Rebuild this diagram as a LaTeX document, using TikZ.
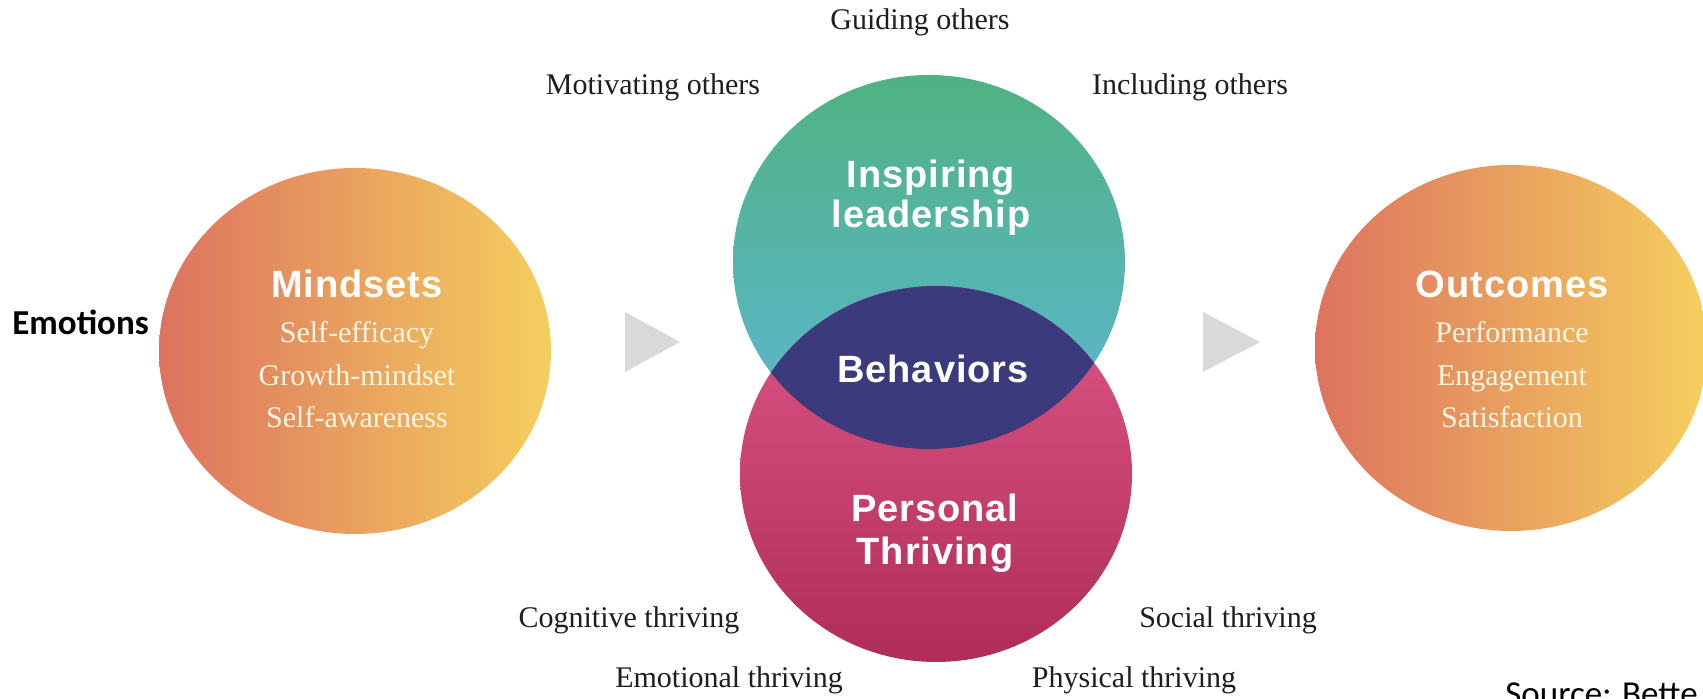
\documentclass[tikz,border=0pt]{standalone}
\usepackage{fontspec}
\setmainfont{Liberation Serif}
\newfontfamily\headfont{Liberation Sans}[LetterSpace=2.5]
\newfontfamily\notefont{Carlito}
\usetikzlibrary{shapes.geometric}

\definecolor{coral}{RGB}{221,115,95}
\definecolor{sun}{RGB}{245,207,94}
\definecolor{tealtop}{RGB}{80,178,130}
\definecolor{tealbot}{RGB}{92,183,212}
\definecolor{pinktop}{RGB}{222,87,135}
\definecolor{pinkbot}{RGB}{176,45,88}
\definecolor{lens}{RGB}{58,58,124}
\definecolor{cream}{RGB}{255,246,230}
\definecolor{ink}{RGB}{30,30,30}
\definecolor{pointer}{RGB}{217,217,217}

\begin{document}
\begin{tikzpicture}[x=0.5pt,y=0.5pt,
  blob/.style={ellipse, inner sep=0pt, outer sep=0pt, minimum width=196pt,
    minimum height=183pt, left color=coral, right color=sun, draw=none},
  venn/.style={ellipse, inner sep=0pt, outer sep=0pt, minimum width=196pt, draw=none},
  head/.style={anchor=base, inner sep=0pt, text=white,
    font=\headfont\bfseries\fontsize{19}{22}\selectfont},
  item/.style={anchor=base, inner sep=0pt, text=cream,
    font=\fontsize{15}{18}\selectfont},
  facet/.style={anchor=base, inner sep=0pt, text=ink,
    font=\fontsize{15}{18}\selectfont},
  note/.style={anchor=base west, inner sep=0pt, text=black,
    font=\notefont\fontsize{17.5}{21}\selectfont},
  pointerstyle/.style={fill=pointer, draw=none}]

% page frame
\fill[white] (0,0) rectangle (1703,699);
\clip[use as bounding box] (0,0) rectangle (1703,699);

% side circles
\node[blob] (mind) at (355,348) {};
\node[blob] (outc) at (1511,351) {};

% venn pair
\node[venn, minimum height=187pt, top color=tealtop, bottom color=tealbot] (lead) at (929,437) {};
\node[venn, minimum height=188pt, top color=pinktop, bottom color=pinkbot] (thrive) at (936,225) {};
\begin{scope}
  \clip (lead.center) ellipse [x radius=98pt, y radius=93.5pt];
  \fill[lens] (thrive.center) ellipse [x radius=98pt, y radius=94pt];
\end{scope}

% flow pointers
\fill[pointerstyle] (625,387) -- (625,327) -- (680,357) -- cycle;
\fill[pointerstyle] (1203,387) -- (1203,327) -- (1260,357) -- cycle;

% left circle text
\node[head] (mindT) at (357,401) {Mindsets};
\node[item] (mind1) at (357,356) {Self-efficacy};
\node[item] (mind2) at (357,313) {Growth-mindset};
\node[item] (mind3) at (357,271) {Self-awareness};

% right circle text
\node[head] (outcT) at (1512,401) {Outcomes};
\node[item] (outc1) at (1512,356) {Performance};
\node[item] (outc2) at (1512,313) {Engagement};
\node[item] (outc3) at (1512,271) {Satisfaction};

% venn text
\node[head] (leadA) at (931,511) {Inspiring};
\node[head] (leadB) at (931,471) {leadership};
\node[head] (behav) at (933,316) {Behaviors};
\node[head] (thrA) at (935,177) {Personal};
\node[head] (thrB) at (935,134) {Thriving};

% facets around the venn
\node[facet] (guide) at (920,669) {Guiding others};
\node[facet] (motiv) at (653,604) {Motivating others};
\node[facet] (incl) at (1190,604) {Including others};
\node[facet] (cogn) at (629,71) {Cognitive thriving};
\node[facet] (soc) at (1228,71) {Social thriving};
\node[facet] (emo) at (729,11) {Emotional thriving};
\node[facet] (phys) at (1134,11) {Physical thriving};

% side notes
\node[note, font=\notefont\bfseries\fontsize{17.5}{21}\selectfont] (emotions) at (12,364) {Emotions};
\node[note] (source) at (1505,-7) {Source: Bette};
\end{tikzpicture}
\end{document}
